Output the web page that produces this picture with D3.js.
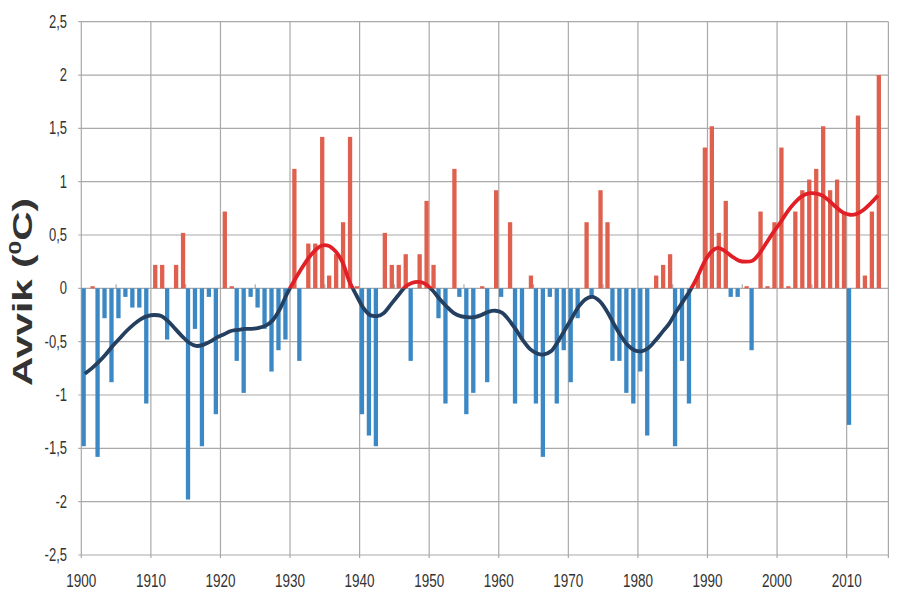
<!DOCTYPE html>
<html><head><meta charset="utf-8">
<script src="https://cdn.jsdelivr.net/npm/d3@7"></script>
<style>body{margin:0;background:#fff;} svg{display:block}</style>
</head><body>
<svg id="c" width="902" height="614"></svg>
<script>
const startYear = 1900;
// Annual temperature deviation (°C), 1900–2014
const anomalies = [
 -1.48, 0.02,-1.58,-0.28,-0.88,-0.28,-0.08,-0.18,-0.18,-1.08,
  0.22, 0.22,-0.48, 0.22, 0.52,-1.98,-0.38,-1.48,-0.08,-1.18,
  0.72, 0.02,-0.68,-0.98,-0.08,-0.18,-0.38,-0.78,-0.58,-0.48,
  1.12,-0.68, 0.42, 0.42, 1.42, 0.12, 0.32, 0.62, 1.42, 0.02,
 -1.18,-1.38,-1.48, 0.52, 0.22, 0.22, 0.32,-0.68, 0.32, 0.82,
  0.22,-0.28,-1.08, 1.12,-0.08,-1.18,-0.98, 0.02,-0.88, 0.92,
 -0.08, 0.62,-1.08,-0.48, 0.12,-1.08,-1.58,-0.08,-1.08,-0.58,
 -0.88,-0.28, 0.62,-0.08, 0.92, 0.62,-0.68,-0.68,-0.98,-1.08,
 -0.78,-1.38, 0.12, 0.22, 0.32,-1.48,-0.68,-1.08, 0.12, 1.32,
  1.52, 0.52, 0.82,-0.08,-0.08, 0.02,-0.58, 0.72, 0.02, 0.62,
  1.32, 0.02, 0.72, 0.92, 1.02, 1.12, 1.52, 0.92, 1.02, 0.70,
 -1.28, 1.62, 0.12, 0.72, 2.00
];
// Smoothed curve, 1900–2014
const smooth = [
 -0.80,-0.75,-0.69,-0.62,-0.54,-0.47,-0.40,-0.34,-0.29,-0.26,
 -0.25,-0.26,-0.31,-0.38,-0.45,-0.51,-0.54,-0.53,-0.50,-0.46,
 -0.43,-0.40,-0.39,-0.38,-0.38,-0.37,-0.35,-0.30,-0.20,-0.06,
  0.06, 0.17, 0.27, 0.35, 0.40, 0.40, 0.35, 0.25, 0.07,-0.06,
 -0.18,-0.25,-0.26,-0.23,-0.15,-0.07, 0.01, 0.05, 0.06, 0.04,
 -0.02,-0.10,-0.17,-0.23,-0.26,-0.27,-0.27,-0.25,-0.22,-0.21,
 -0.23,-0.30,-0.39,-0.49,-0.57,-0.61,-0.62,-0.59,-0.50,-0.39,
 -0.28,-0.17,-0.10,-0.08,-0.12,-0.21,-0.33,-0.44,-0.53,-0.58,
 -0.59,-0.56,-0.49,-0.41,-0.33,-0.22,-0.12,-0.02, 0.10, 0.24,
  0.34, 0.38, 0.35, 0.30, 0.26, 0.25, 0.26, 0.33, 0.43, 0.53,
  0.62, 0.72, 0.80, 0.86, 0.89, 0.89, 0.87, 0.82, 0.76, 0.71,
  0.69, 0.70, 0.74, 0.80, 0.87
];
const yTicks = [2.5, 2, 1.5, 1, 0.5, 0, -0.5, -1, -1.5, -2, -2.5];
const xTickYears = [1900,1910,1920,1930,1940,1950,1960,1970,1980,1990,2000,2010];
const minorTickYears = [1905,1915,1925,1935,1945,1955,1965,1975,1985,1995,2005];
const yTitle = ["Avvik (", "0", "C)"];

const data = anomalies.map((v,i)=>({year:startYear+i, v, s:smooth[i]}));

const svg = d3.select("#c");
const L = 81.3, R = 888.4, T = 21.7, B = 555;
const x = d3.scaleLinear().domain([1900, 2016]).range([L, R]);
const y = d3.scaleLinear().domain([-2.5, 2.5]).range([B, T]);
const step = x(1901) - x(1900);

const gridColor = "#a9a9a9";
const g = svg.append("g");
// horizontal grid
g.selectAll(".hg").data(yTicks).enter().append("line")
  .attr("x1", L-3).attr("x2", R).attr("y1", d=>y(d)).attr("y2", d=>y(d))
  .attr("stroke", gridColor).attr("stroke-width", 1.2);
// vertical grid
g.selectAll(".vg").data(xTickYears.concat([2016])).enter().append("line")
  .attr("x1", d=>x(d)).attr("x2", d=>x(d)).attr("y1", T).attr("y2", B+3)
  .attr("stroke", gridColor).attr("stroke-width", 1.2);
// minor ticks at zero line
g.selectAll(".mt").data(minorTickYears).enter().append("line")
  .attr("x1", d=>x(d)).attr("x2", d=>x(d)).attr("y1", y(0)-4).attr("y2", y(0))
  .attr("stroke", gridColor).attr("stroke-width", 1.2);

// bars
const blue = "#3b88c4", red = "#e0604f";
svg.append("g").selectAll("rect").data(data).enter().append("rect")
  .attr("x", d => d.v >= 0 ? x(d.year) + 2.2 : x(d.year) + 0.2)
  .attr("width", 4.3)
  .attr("y", d => y(Math.max(0, d.v)))
  .attr("height", d => Math.abs(y(d.v) - y(0)))
  .attr("fill", d => d.v >= 0 ? red : blue);

// smoothed line split at zero
const defs = svg.append("defs");
defs.append("clipPath").attr("id","above").append("rect")
  .attr("x", 0).attr("y", 0).attr("width", 902).attr("height", y(0));
defs.append("clipPath").attr("id","below").append("rect")
  .attr("x", 0).attr("y", y(0)).attr("width", 902).attr("height", 614 - y(0));
const line = d3.line().x(d => x(d.year) + step/2).y(d => y(d.s)).curve(d3.curveCatmullRom.alpha(0.5));
svg.append("path").datum(data).attr("d", line).attr("fill","none")
  .attr("stroke", "#243f60").attr("stroke-width", 3.8).attr("stroke-linejoin","round")
  .attr("clip-path","url(#below)");
svg.append("path").datum(data).attr("d", line).attr("fill","none")
  .attr("stroke", "#e01f26").attr("stroke-width", 3.8).attr("stroke-linejoin","round")
  .attr("clip-path","url(#above)");

// y tick labels
svg.append("g").selectAll("text").data(yTicks).enter().append("text")
  .attr("transform", d => `translate(67,${y(d)+6}) scale(1,1.35)`)
  .attr("text-anchor","end")
  .attr("font-family","Liberation Sans, Arial, sans-serif").attr("font-size", 13)
  .attr("fill","#333")
  .text(d => String(d).replace(".", ","));

// x tick labels
svg.append("g").selectAll("text").data(xTickYears).enter().append("text")
  .attr("transform", d => `translate(${x(d)},587) scale(1,1.42)`)
  .attr("text-anchor","middle")
  .attr("font-family","Liberation Sans, Arial, sans-serif").attr("font-size", 13.5)
  .attr("fill","#333")
  .text(d => d);

// y axis title
const t = svg.append("text")
  .attr("transform","translate(32,292) rotate(-90) scale(1.45,1)")
  .attr("text-anchor","middle")
  .attr("font-family","Liberation Sans, Arial, sans-serif").attr("font-weight","bold")
  .attr("font-size", 28).attr("fill","#333");
t.append("tspan").text(yTitle[0]);
t.append("tspan").attr("font-size", 17).attr("dy", -11).text(yTitle[1]);
t.append("tspan").attr("dy", 11).text(yTitle[2]);
</script>
</body></html>
